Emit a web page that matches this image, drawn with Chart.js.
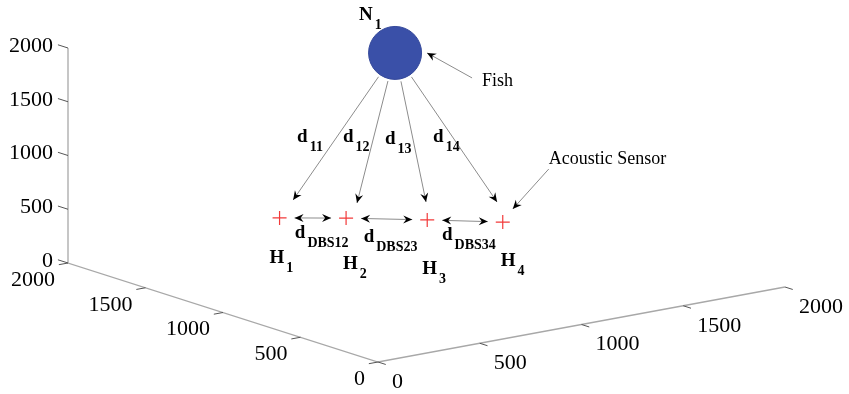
<!DOCTYPE html>
<html>
<head>
<meta charset="utf-8">
<script src="https://cdn.jsdelivr.net/npm/chart.js@4.4.0/dist/chart.umd.min.js"></script>
<style>
  html, body { margin: 0; padding: 0; background: #fff; }
  #wrap { width: 849px; height: 394px; }
</style>
</head>
<body>
<div id="wrap"><canvas id="myChart" width="849" height="394"></canvas></div>
<script>
// ticks, same on all three axes
const tickValues = [0, 500, 1000, 1500, 2000];
const tickLabels = ["0", "500", "1000", "1500", "2000"];

// acoustic sensors H1..H4
const sensorSubs = ["1", "2", "3", "4"];
const sensorX = [575, 780, 1015, 1230];
const sensorY = [1390, 1230, 1015, 810];
const sensorZ = [500, 500, 500, 500];

// fish N1
const fishX = [1055];
const fishY = [1275];
const fishZ = [1920];

// points where the d1i arrows end, just above the sensors
const tipX = [634, 804, 1029, 1250];
const tipY = [1380, 1191, 1041, 873];
const tipZ = [650, 650, 650, 650];

const rangeSubs = ["11", "12", "13", "14"];
const spacingSubs = ["DBS12", "DBS23", "DBS34"];

// 3d view (roughly matlab's default az/el) -> flat chart values
const proj = (x, y, z) => ({
  x: 378 + x * 0.2035 - y * 0.155,
  y: 362 - x * 0.0375 - y * 0.0495 - z * 0.1075,
});

const top3 = tickValues[tickValues.length - 1];
const axisPath = [proj(0, top3, top3), proj(0, top3, 0), proj(0, 0, 0), proj(top3, 0, 0)];
const sensorPts = sensorX.map((x, i) => proj(x, sensorY[i], sensorZ[i]));
const fishPts = fishX.map((x, i) => proj(x, fishY[i], fishZ[i]));
const tipPts = tipX.map((x, i) => proj(x, tipY[i], tipZ[i]));

// label placement, pixels relative to the marks
const hOff = [[-10, 45], [-3, 51], [-5, 54], [-2, 44]];
const dOff = [[4, -58], [-14, -61], [-41, -58], [-64, -60]];
const dbsOff = [[-18, 20], [-23, 23], [-23, 19]];

const serif = '"Liberation Serif", "Times New Roman", serif';

const toPx = (chart, p) => ({
  x: chart.scales.x.getPixelForValue(p.x),
  y: chart.scales.y.getPixelForValue(p.y),
});

const head = (ctx, from, to) => {
  const a = Math.atan2(to.y - from.y, to.x - from.x);
  ctx.save();
  ctx.translate(to.x, to.y);
  ctx.rotate(a);
  ctx.fillStyle = "#000";
  ctx.beginPath();
  ctx.moveTo(0, 0);
  ctx.lineTo(-9, -4);
  ctx.lineTo(-6, 0);
  ctx.lineTo(-9, 4);
  ctx.closePath();
  ctx.fill();
  ctx.restore();
};

const arrow = (ctx, from, to, both) => {
  ctx.strokeStyle = "#8c8c8c";
  ctx.lineWidth = 1;
  ctx.beginPath();
  ctx.moveTo(from.x, from.y);
  ctx.lineTo(to.x, to.y);
  ctx.stroke();
  head(ctx, from, to);
  if (both) head(ctx, to, from);
};

const subText = (ctx, main, sub, x, y) => {
  ctx.fillStyle = "#000";
  ctx.textAlign = "left";
  ctx.textBaseline = "alphabetic";
  ctx.font = "bold 19px " + serif;
  ctx.fillText(main, x, y);
  let w = ctx.measureText(main).width;
  ctx.font = "bold 14px " + serif;
  ctx.fillText(sub, x + w + 2, y + 9);
};

const along = (p, q, d) => {
  let dx = q.x - p.x, dy = q.y - p.y;
  let len = Math.hypot(dx, dy);
  return { x: p.x + (dx / len) * d, y: p.y + (dy / len) * d };
};

const annotations = {
  id: "annotations",
  afterDatasetsDraw: (chart) => {
    const ctx = chart.ctx;
    ctx.save();

    // tick marks + labels
    ctx.strokeStyle = "#555";
    ctx.lineWidth = 1;
    ctx.fillStyle = "#000";
    ctx.font = "22px " + serif;
    tickValues.forEach((v, i) => {
      // z axis
      let a = toPx(chart, proj(0, top3, v));
      let b = toPx(chart, proj(0, top3 + 65, v));
      ctx.beginPath(); ctx.moveTo(a.x, a.y); ctx.lineTo(b.x, b.y); ctx.stroke();
      ctx.textAlign = "right"; ctx.textBaseline = "middle";
      ctx.fillText(tickLabels[i], a.x - 15, a.y - 2);

      // y axis (front left)
      a = toPx(chart, proj(0, v, 0));
      b = toPx(chart, proj(-45, v, 0));
      ctx.beginPath(); ctx.moveTo(a.x, a.y); ctx.lineTo(b.x, b.y); ctx.stroke();
      ctx.textAlign = "right";
      ctx.fillText(tickLabels[i], a.x - 13, a.y + 17);

      // x axis (front right)
      a = toPx(chart, proj(v, 0, 0));
      b = toPx(chart, proj(v, -50, 0));
      ctx.beginPath(); ctx.moveTo(a.x, a.y); ctx.lineTo(b.x, b.y); ctx.stroke();
      ctx.textAlign = "left";
      ctx.fillText(tickLabels[i], a.x + 14, a.y + 20);
    });

    const fish = toPx(chart, fishPts[0]);
    const sensors = sensorPts.map((p) => toPx(chart, p));
    const tips = tipPts.map((p) => toPx(chart, p));

    // fish -> sensor ranges
    tips.forEach((t, i) => {
      arrow(ctx, along(fish, t, 29), t, false);
      subText(ctx, "d", rangeSubs[i], t.x + dOff[i][0], t.y + dOff[i][1]);
    });

    // spacing between neighbouring sensors
    for (let i = 0; i < sensors.length - 1; i++) {
      let p = sensors[i], q = sensors[i + 1];
      arrow(ctx, along(p, q, 15), along(q, p, 15), true);
      let mx = (p.x + q.x) / 2, my = (p.y + q.y) / 2;
      subText(ctx, "d", spacingSubs[i], mx + dbsOff[i][0], my + dbsOff[i][1]);
    }

    // sensor names
    sensors.forEach((s, i) => {
      subText(ctx, "H", sensorSubs[i], s.x + hOff[i][0], s.y + hOff[i][1]);
    });

    // fish name
    subText(ctx, "N", "1", fish.x - 36, fish.y - 33);

    // callouts
    arrow(ctx, { x: fish.x + 77, y: fish.y + 25 }, { x: fish.x + 32, y: fish.y }, false);
    ctx.font = "18px " + serif;
    ctx.fillStyle = "#000";
    ctx.textAlign = "left";
    ctx.textBaseline = "alphabetic";
    ctx.fillText("Fish", fish.x + 87, fish.y + 33);

    const h4 = sensors[sensors.length - 1];
    arrow(ctx, { x: h4.x + 46, y: h4.y - 53 }, { x: h4.x + 10, y: h4.y - 13 }, false);
    ctx.font = "18px " + serif;
    ctx.fillStyle = "#000";
    ctx.fillText("Acoustic Sensor", h4.x + 46, h4.y - 58);

    ctx.restore();
  },
};

const ctx = document.getElementById("myChart").getContext("2d");
const chart = new Chart(ctx, {
  type: "scatter",
  data: {
    datasets: [
      {
        label: "axes",
        type: "line",
        data: axisPath,
        borderColor: "#a8a8a8",
        borderWidth: 1.3,
        pointRadius: 0,
        fill: false,
        tension: 0,
        clip: false,
      },
      {
        label: "Acoustic Sensor",
        data: sensorPts,
        pointStyle: "cross",
        pointRadius: 7,
        borderColor: "#f23a3a",
        borderWidth: 1.2,
        clip: false,
      },
      {
        label: "Fish",
        data: fishPts,
        pointStyle: "circle",
        pointRadius: 26.5,
        backgroundColor: "#3a50a8",
        borderColor: "#34489a",
        borderWidth: 1,
        clip: false,
      },
    ],
  },
  options: {
    responsive: false,
    animation: false,
    devicePixelRatio: 1,
    layout: { padding: 0, autoPadding: false },
    events: [],
    plugins: {
      legend: { display: false },
      tooltip: { enabled: false },
    },
    scales: {
      x: { type: "linear", min: 0, max: 849, display: false },
      y: { type: "linear", min: 0, max: 394, reverse: true, display: false },
    },
  },
  plugins: [annotations],
});
</script>
</body>
</html>
